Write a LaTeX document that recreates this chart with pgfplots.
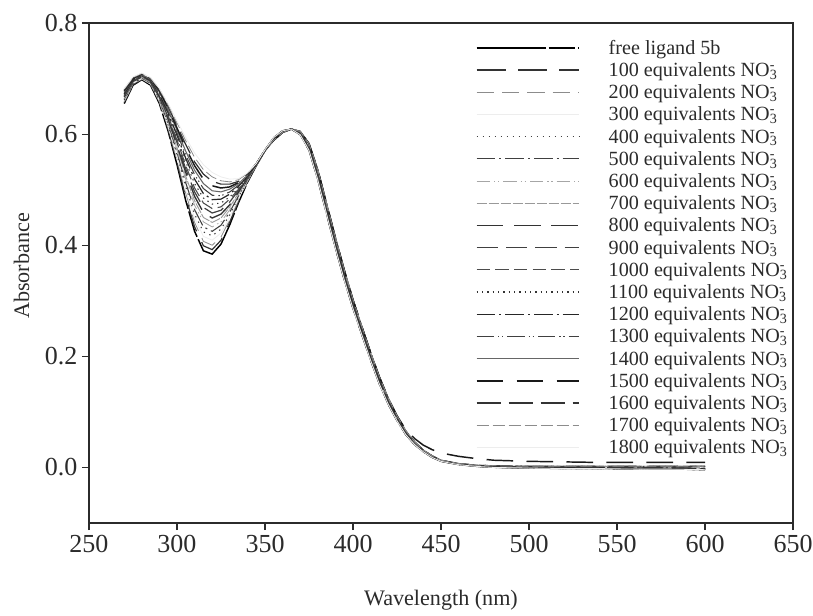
\documentclass[border=0pt]{standalone}
\usepackage{pgfplots}
\pgfplotsset{compat=1.18}
\usepackage{pgfplotstable}
\usepackage{fontspec}
\setmainfont{Liberation Serif}
\newcommand{\nothree}{NO\rlap{\textsubscript{3}}\textsuperscript{-}}
\definecolor{axc}{HTML}{2B2B2B}

\pgfplotstableread{
x c0 c1 c2 c3 c4 c5 c6 c7 c8 c9 c10 c11 c12 c13 c14 c15 c16 c17 c18
270 0.655 0.657 0.658 0.660 0.661 0.663 0.664 0.666 0.667 0.669 0.670 0.672 0.673 0.675 0.676 0.678 0.679 0.681 0.682
275 0.688 0.689 0.690 0.691 0.691 0.692 0.693 0.694 0.695 0.696 0.696 0.697 0.698 0.699 0.700 0.700 0.701 0.702 0.703
280 0.698 0.699 0.699 0.700 0.701 0.701 0.702 0.703 0.703 0.704 0.705 0.705 0.706 0.707 0.707 0.708 0.709 0.709 0.710
285 0.688 0.689 0.690 0.690 0.691 0.692 0.693 0.693 0.694 0.695 0.696 0.697 0.697 0.698 0.699 0.700 0.700 0.701 0.702
290 0.655 0.657 0.658 0.660 0.661 0.663 0.664 0.666 0.667 0.669 0.670 0.672 0.673 0.675 0.676 0.678 0.679 0.681 0.682
295 0.605 0.608 0.611 0.613 0.616 0.619 0.622 0.624 0.627 0.630 0.633 0.636 0.638 0.641 0.644 0.647 0.649 0.652 0.655
300 0.545 0.549 0.554 0.558 0.563 0.567 0.571 0.576 0.580 0.585 0.589 0.593 0.598 0.602 0.607 0.611 0.615 0.620 0.624
305 0.480 0.486 0.493 0.499 0.505 0.512 0.518 0.524 0.531 0.537 0.543 0.550 0.556 0.562 0.569 0.575 0.581 0.588 0.594
310 0.425 0.433 0.441 0.449 0.456 0.464 0.472 0.480 0.488 0.496 0.503 0.511 0.519 0.527 0.535 0.543 0.550 0.558 0.566
315 0.390 0.399 0.407 0.416 0.424 0.433 0.442 0.450 0.459 0.468 0.476 0.485 0.493 0.502 0.511 0.519 0.528 0.536 0.545
320 0.384 0.392 0.400 0.409 0.417 0.425 0.433 0.441 0.449 0.458 0.466 0.474 0.482 0.490 0.498 0.507 0.515 0.523 0.531
325 0.402 0.409 0.415 0.422 0.429 0.436 0.442 0.449 0.456 0.463 0.469 0.476 0.483 0.489 0.496 0.503 0.510 0.516 0.523
330 0.437 0.442 0.446 0.451 0.455 0.460 0.464 0.469 0.473 0.478 0.483 0.487 0.492 0.496 0.501 0.505 0.510 0.514 0.519
335 0.477 0.479 0.482 0.484 0.487 0.489 0.491 0.494 0.496 0.499 0.501 0.503 0.506 0.508 0.511 0.513 0.515 0.518 0.520
340 0.513 0.514 0.515 0.516 0.517 0.518 0.519 0.520 0.521 0.522 0.522 0.523 0.524 0.525 0.526 0.527 0.528 0.529 0.530
345 0.543 0.543 0.543 0.544 0.544 0.544 0.544 0.545 0.545 0.545 0.545 0.545 0.546 0.546 0.546 0.546 0.547 0.547 0.547
350 0.570 0.570 0.570 0.570 0.570 0.571 0.571 0.571 0.571 0.571 0.571 0.571 0.571 0.571 0.572 0.572 0.572 0.572 0.572
355 0.592 0.589 0.594 0.592 0.589 0.594 0.592 0.589 0.594 0.592 0.589 0.594 0.592 0.589 0.594 0.589 0.592 0.589 0.594
360 0.605 0.603 0.606 0.605 0.603 0.606 0.605 0.603 0.606 0.605 0.603 0.606 0.605 0.603 0.606 0.603 0.605 0.603 0.606
365 0.609 0.609 0.609 0.609 0.609 0.609 0.609 0.609 0.609 0.609 0.609 0.609 0.609 0.609 0.609 0.609 0.609 0.609 0.609
370 0.601 0.605 0.599 0.601 0.605 0.599 0.601 0.605 0.599 0.601 0.605 0.599 0.601 0.605 0.599 0.605 0.601 0.605 0.599
375 0.575 0.583 0.571 0.575 0.583 0.571 0.575 0.583 0.571 0.575 0.583 0.571 0.575 0.583 0.571 0.583 0.575 0.583 0.571
380 0.525 0.536 0.518 0.525 0.536 0.518 0.525 0.536 0.518 0.525 0.536 0.518 0.525 0.536 0.518 0.536 0.525 0.536 0.518
385 0.463 0.475 0.456 0.463 0.475 0.456 0.463 0.475 0.456 0.463 0.475 0.456 0.463 0.475 0.456 0.475 0.463 0.475 0.456
390 0.402 0.414 0.395 0.402 0.414 0.395 0.402 0.414 0.395 0.402 0.414 0.395 0.402 0.414 0.395 0.414 0.402 0.414 0.395
395 0.345 0.356 0.338 0.345 0.356 0.338 0.345 0.356 0.338 0.345 0.356 0.338 0.345 0.356 0.338 0.356 0.345 0.356 0.338
400 0.292 0.302 0.286 0.292 0.302 0.286 0.292 0.302 0.286 0.292 0.302 0.286 0.292 0.302 0.286 0.302 0.292 0.302 0.286
405 0.245 0.254 0.239 0.245 0.254 0.239 0.245 0.254 0.239 0.245 0.254 0.239 0.245 0.254 0.239 0.254 0.245 0.254 0.239
410 0.198 0.207 0.193 0.198 0.207 0.193 0.198 0.207 0.193 0.198 0.207 0.193 0.198 0.207 0.193 0.207 0.198 0.207 0.193
415 0.155 0.163 0.150 0.155 0.163 0.150 0.155 0.163 0.150 0.155 0.163 0.150 0.155 0.163 0.150 0.163 0.155 0.163 0.150
420 0.118 0.125 0.114 0.118 0.125 0.114 0.118 0.125 0.114 0.118 0.125 0.114 0.118 0.125 0.114 0.125 0.118 0.125 0.114
425 0.087 0.093 0.084 0.087 0.093 0.084 0.087 0.093 0.084 0.087 0.093 0.084 0.087 0.093 0.084 0.093 0.087 0.093 0.084
430 0.062 0.066 0.059 0.062 0.066 0.059 0.062 0.066 0.059 0.062 0.066 0.059 0.062 0.066 0.059 0.068 0.062 0.066 0.059
435 0.043 0.046 0.041 0.043 0.046 0.041 0.043 0.046 0.041 0.043 0.046 0.041 0.043 0.046 0.041 0.052 0.043 0.046 0.041
440 0.029 0.031 0.028 0.029 0.031 0.028 0.029 0.031 0.028 0.029 0.031 0.028 0.029 0.031 0.028 0.040 0.029 0.031 0.028
445 0.019 0.021 0.018 0.019 0.021 0.018 0.019 0.021 0.018 0.019 0.021 0.018 0.019 0.021 0.018 0.032 0.019 0.021 0.018
450 0.012 0.013 0.011 0.012 0.013 0.011 0.012 0.013 0.011 0.012 0.013 0.011 0.012 0.013 0.011 0.026 0.012 0.013 0.011
460 0.006 0.007 0.005 0.006 0.007 0.005 0.006 0.007 0.005 0.006 0.007 0.005 0.006 0.007 0.005 0.020 0.006 0.007 0.005
470 0.003 0.004 0.002 0.003 0.004 0.002 0.003 0.004 0.002 0.003 0.004 0.002 0.003 0.004 0.002 0.016 0.003 0.004 0.002
480 0.002 0.003 0.000 0.002 0.003 0.000 0.002 0.003 0.000 0.002 0.003 0.000 0.002 0.003 0.000 0.013 0.002 0.003 0.000
500 0.001 0.002 -0.001 0.001 0.002 -0.001 0.001 0.002 -0.001 0.001 0.002 -0.001 0.001 0.002 -0.001 0.011 0.001 0.002 -0.001
520 0.000 0.002 -0.002 0.000 0.002 -0.002 0.000 0.002 -0.002 0.000 0.002 -0.002 0.000 0.002 -0.002 0.010 0.000 0.002 -0.002
540 0.000 0.002 -0.002 0.000 0.002 -0.002 0.000 0.002 -0.002 0.000 0.002 -0.002 0.000 0.002 -0.002 0.009 0.000 0.002 -0.002
560 -0.001 0.002 -0.003 -0.001 0.002 -0.003 -0.001 0.002 -0.003 -0.001 0.002 -0.003 -0.001 0.002 -0.003 0.009 -0.001 0.002 -0.003
580 -0.001 0.002 -0.003 -0.001 0.002 -0.003 -0.001 0.002 -0.003 -0.001 0.002 -0.003 -0.001 0.002 -0.003 0.009 -0.001 0.002 -0.003
600 -0.002 0.002 -0.004 -0.002 0.002 -0.004 -0.002 0.002 -0.004 -0.002 0.002 -0.004 -0.002 0.002 -0.004 0.009 -0.002 0.002 -0.004
}\spectra

\begin{document}
\begin{tikzpicture}
\useasboundingbox (-66.75pt,-69pt) rectangle (543pt,392.25pt);
\begin{axis}[
  at={(0pt,0pt)}, anchor=south west,
  scale only axis, width=528pt, height=375pt,
  xmin=250, xmax=650, ymin=-0.1, ymax=0.8,
  xtick={250,300,350,400,450,500,550,600,650},
  ytick={0,0.2,0.4,0.6,0.8},
  tick pos=left, tick align=outside, major tick length=5.25pt,
  axis line style={draw=axc, line width=0.9pt},
  every tick/.style={draw=axc, line width=0.9pt},
  /pgf/number format/assume math mode=true,
  ticklabel style={font=\fontsize{19.5}{23}\selectfont, text=axc},
  yticklabel style={/pgf/number format/fixed, /pgf/number format/fixed zerofill, /pgf/number format/precision=1},
  xticklabel style={/pgf/number format/1000 sep={}},
  xlabel={Wavelength (nm)}, ylabel={Absorbance},
  label style={font=\fontsize{16.6}{19}\selectfont, text=axc},
  xlabel style={at={(axis description cs:0.5,-0.154)}, anchor=center},
  ylabel style={at={(axis description cs:-0.0959,0.514)}, anchor=center},
  legend cell align=left,
  legend style={draw=none, fill=none, inner sep=0pt, outer sep=0pt, row sep=0pt,
    at={(0.5497,0.9656)}, anchor=north west,
    font=\fontsize{15.1}{17}\selectfont, text=axc,
    nodes={inner sep=0pt, outer sep=0pt, text height=10.5pt, text depth=6.15pt, anchor=base west}},
  legend image code/.code={\draw[#1] (0pt,4.8pt) -- (77pt,4.8pt); \path[draw=none] (0pt,0pt) -- (99pt,0pt);},
]
\addplot[black, line width=1.1pt, dash pattern=on 52pt off 2pt on 20pt off 2pt] table[x=x,y=c0] {\spectra};
\addlegendentry{free ligand 5b}
\addplot[black!80, line width=0.9pt, dash pattern=on 22pt off 9pt] table[x=x,y=c1] {\spectra};
\addlegendentry{100 equivalents \nothree}
\addplot[black!45, line width=0.6pt, dash pattern=on 13pt off 6pt] table[x=x,y=c2] {\spectra};
\addlegendentry{200 equivalents \nothree}
\addplot[black!7, line width=0.6pt] table[x=x,y=c3] {\spectra};
\addlegendentry{300 equivalents \nothree}
\addplot[black!75, line width=0.8pt, dash pattern=on 1pt off 3.5pt] table[x=x,y=c4] {\spectra};
\addlegendentry{400 equivalents \nothree}
\addplot[black!75, line width=0.8pt, dash pattern=on 14pt off 3pt on 1.5pt off 3pt] table[x=x,y=c5] {\spectra};
\addlegendentry{500 equivalents \nothree}
\addplot[black!35, line width=0.6pt, dash pattern=on 10pt off 3pt on 1pt off 2pt on 1pt off 3pt] table[x=x,y=c6] {\spectra};
\addlegendentry{600 equivalents \nothree}
\addplot[black!40, line width=0.7pt, dash pattern=on 8pt off 1pt] table[x=x,y=c7] {\spectra};
\addlegendentry{700 equivalents \nothree}
\addplot[black!80, line width=1pt, dash pattern=on 20pt off 8pt] table[x=x,y=c8] {\spectra};
\addlegendentry{800 equivalents \nothree}
\addplot[black!75, line width=0.9pt, dash pattern=on 16pt off 6pt] table[x=x,y=c9] {\spectra};
\addlegendentry{900 equivalents \nothree}
\addplot[black!70, line width=0.8pt, dash pattern=on 10pt off 4pt] table[x=x,y=c10] {\spectra};
\addlegendentry{1000 equivalents \nothree}
\addplot[black!80, line width=0.8pt, dash pattern=on 1pt off 3pt] table[x=x,y=c11] {\spectra};
\addlegendentry{1100 equivalents \nothree}
\addplot[black!85, line width=0.9pt, dash pattern=on 14pt off 3pt on 1.5pt off 3pt] table[x=x,y=c12] {\spectra};
\addlegendentry{1200 equivalents \nothree}
\addplot[black!75, line width=0.8pt, dash pattern=on 13pt off 3pt on 1pt off 2pt on 1pt off 3pt] table[x=x,y=c13] {\spectra};
\addlegendentry{1300 equivalents \nothree}
\addplot[black!60, line width=0.8pt] table[x=x,y=c14] {\spectra};
\addlegendentry{1400 equivalents \nothree}
\addplot[black!90, line width=1.1pt, dash pattern=on 20pt off 10pt] table[x=x,y=c15] {\spectra};
\addlegendentry{1500 equivalents \nothree}
\addplot[black!80, line width=0.9pt, dash pattern=on 18pt off 6pt] table[x=x,y=c16] {\spectra};
\addlegendentry{1600 equivalents \nothree}
\addplot[black!45, line width=0.6pt, dash pattern=on 9pt off 3pt] table[x=x,y=c17] {\spectra};
\addlegendentry{1700 equivalents \nothree}
\addplot[black!7, line width=0.6pt] table[x=x,y=c18] {\spectra};
\addlegendentry{1800 equivalents \nothree}
\end{axis}
\end{tikzpicture}
\end{document}
